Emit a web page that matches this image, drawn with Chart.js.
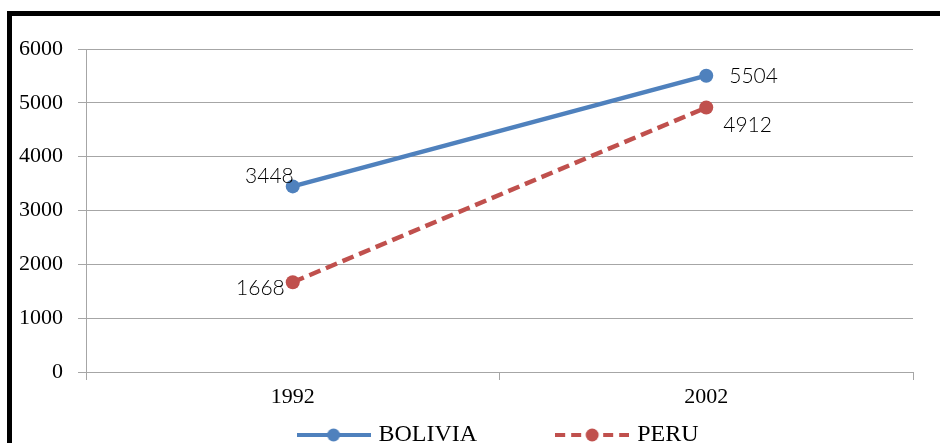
<!DOCTYPE html>
<html>
<head>
<meta charset="utf-8">
<script src="https://cdn.jsdelivr.net/npm/chart.js@4/dist/chart.umd.min.js"></script>
<style>
    html, body { margin: 0; padding: 0; background: #fff; overflow: hidden; width: 940px; height: 443px; }
    #marco { position: absolute; left: 7px; top: 11px; width: 960px; height: 480px; border-left: 5px solid #000; border-top: 5px solid #000; }
    #grafico { position: absolute; left: 0; top: 0; }
</style>
</head>
<body>
<div id="marco"></div>
<canvas id="grafico" width="940" height="457"></canvas>
<script>
const anios = ["1992", "2002"];
const bolivia = [3448, 5504];
const peru = [1668, 4912];
const series = ["BOLIVIA", "PERU"];

const azul = "#4F81BD";
const rojo = "#C0504D";
const gris = "#a6a6a6";

// icono de leyenda: linea con punto al medio (estilo excel)
function iconoLeyenda(color, dash) {
    const c = document.createElement("canvas");
    c.width = 74;
    c.height = 16;
    const g = c.getContext("2d");
    g.strokeStyle = color;
    g.lineWidth = 4;
    g.setLineDash(dash);
    g.beginPath();
    g.moveTo(0, 8);
    g.lineTo(74, 8);
    g.stroke();
    g.fillStyle = color;
    g.beginPath();
    g.arc(37, 8, 6.5, 0, Math.PI * 2);
    g.fill();
    return c;
}
const iconos = [iconoLeyenda(azul, []), iconoLeyenda(rojo, [10, 6])];

// etiquetas de valores al lado de cada punto
const desplazamientos = [
    [{ dx: 1, dy: -10, align: "right" }, { dx: 23, dy: 1, align: "left" }],
    [{ dx: -8, dy: 6, align: "right" }, { dx: 17, dy: 18, align: "left" }]
];

const etiquetasValores = {
    id: "etiquetasValores",
    afterDatasetsDraw(chart) {
        const ctx = chart.ctx;
        ctx.save();
        ctx.font = "300 21px Lato";
        ctx.fillStyle = "#000";
        ctx.textBaseline = "middle";
        chart.data.datasets.forEach((ds, i) => {
            chart.getDatasetMeta(i).data.forEach((p, j) => {
                const d = desplazamientos[i][j];
                ctx.textAlign = d.align;
                ctx.fillText(String(ds.data[j]), p.x + d.dx, p.y + d.dy);
            });
        });
        ctx.restore();
    }
};

const ctx = document.getElementById("grafico").getContext("2d");

new Chart(ctx, {
    type: "line",
    data: {
        labels: anios,
        datasets: [
            {
                label: series[0],
                data: bolivia,
                borderColor: azul,
                backgroundColor: azul,
                borderWidth: 4.5,
                pointRadius: 7,
                pointHoverRadius: 7,
                pointBackgroundColor: azul,
                pointBorderWidth: 0,
                tension: 0
            },
            {
                label: series[1],
                data: peru,
                borderColor: rojo,
                backgroundColor: rojo,
                borderWidth: 4.5,
                borderDash: [12, 6],
                pointRadius: 7,
                pointHoverRadius: 7,
                pointBackgroundColor: rojo,
                pointBorderWidth: 0,
                tension: 0
            }
        ]
    },
    options: {
        responsive: false,
        animation: false,
        devicePixelRatio: 1,
        layout: { padding: { top: 49, right: 27, left: 0, bottom: 0 } },
        scales: {
            x: {
                offset: true,
                afterFit: (s) => { s.height = 41; },
                ticks: { color: "#000", padding: 4, font: { family: "Liberation Serif", size: 22 } },
                grid: { display: true, drawOnChartArea: false, drawTicks: true, tickLength: 8, color: gris, offset: true },
                border: { color: gris }
            },
            y: {
                min: 0,
                max: 6000,
                afterFit: (s) => { s.width = 86; },
                ticks: {
                    stepSize: 1000,
                    color: "#000",
                    padding: 15,
                    font: { family: "Liberation Serif", size: 22 },
                    callback: (v) => String(v)
                },
                grid: { color: gris, tickLength: 8 },
                border: { color: gris }
            }
        },
        plugins: {
            legend: {
                position: "bottom",
                fullSize: false,
                labels: {
                    usePointStyle: true,
                    pointStyleWidth: 66,
                    padding: 10,
                    color: "#000",
                    font: { family: "Liberation Serif", size: 24 },
                    generateLabels: (chart) => {
                        const items = Chart.defaults.plugins.legend.labels.generateLabels(chart);
                        return items.map((it, i) => {
                            it.pointStyle = iconos[i];
                            // espacio extra entre los dos items
                            if (i === 0) it.text = it.text + "\u2003\u2003\u2003";
                            return it;
                        });
                    }
                }
            },
            tooltip: { enabled: false }
        }
    },
    plugins: [etiquetasValores]
});
</script>
</body>
</html>
